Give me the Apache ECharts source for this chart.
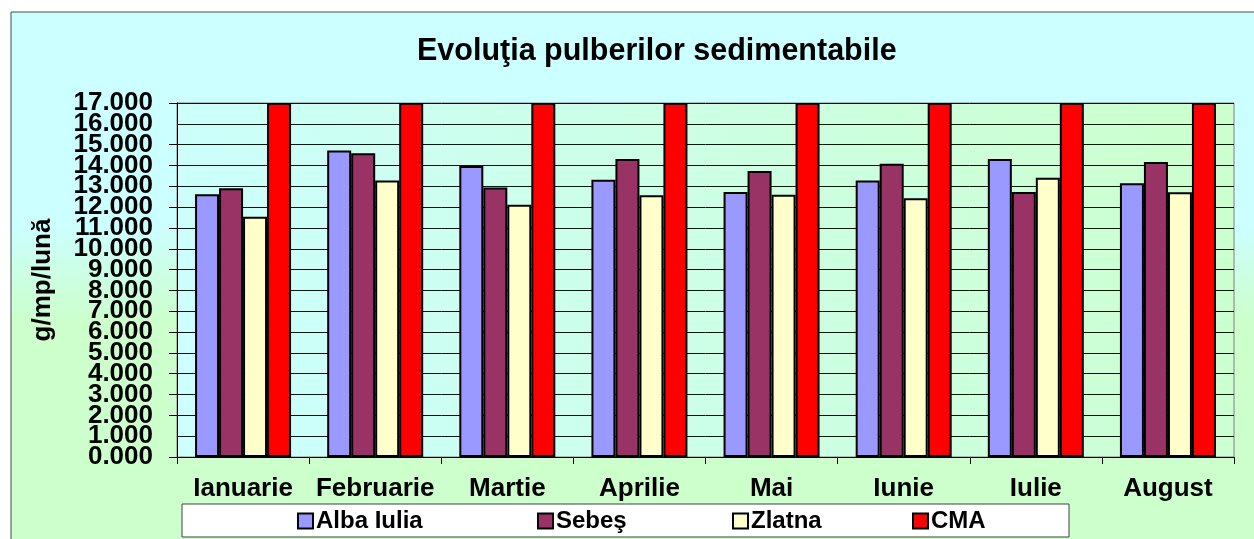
<!DOCTYPE html>
<html>
<head>
<meta charset="utf-8">
<script src="https://cdn.jsdelivr.net/npm/echarts@6/dist/echarts.min.js"></script>
<style>
    html, body { margin: 0; padding: 0; background: #ffffff; }
    #chart { width: 1254px; height: 539px; }
</style>
</head>
<body>
<div id="chart"></div>
<script>
// date
var luni = ['Ianuarie', 'Februarie', 'Martie', 'Aprilie', 'Mai', 'Iunie', 'Iulie', 'August'];
var albaIulia = [12.62, 14.72, 13.98, 13.31, 12.73, 13.28, 14.31, 13.15];
var sebes = [12.91, 14.59, 12.94, 14.31, 13.74, 14.08, 12.73, 14.17];
var zlatna = [11.54, 13.28, 12.11, 12.57, 12.59, 12.43, 13.41, 12.71];
var cma = [17, 17, 17, 17, 17, 17, 17, 17];
var numeSerii = ['Alba Iulia', 'Sebeş', 'Zlatna', 'CMA'];
var culori = ['#9999FF', '#993366', '#FFFFCC', '#FF0000'];
// etichete ascunse de echarts langa capete (se redau pe o axa suprapusa)
var eticheteCapete = [1, 16];

var font = 'Liberation Sans, Arial, sans-serif';
var myChart = echarts.init(document.getElementById('chart'));

// fundal + chenar exterior
var fundal = {
    type: 'rect',
    z: -10,
    shape: { x: 11, y: 12, width: 1300, height: 560 },
    style: {
        fill: new echarts.graphic.LinearGradient(0, 0, 0, 1, [
            { offset: 0, color: '#CCFFFF' },
            { offset: 0.38, color: '#CCFFFF' },
            { offset: 0.55, color: '#CCFFCC' },
            { offset: 1, color: '#CCFFCC' }
        ]),
        stroke: '#3f4f4f',
        lineWidth: 1
    }
};
// caseta legendei
var casetaLegenda = {
    type: 'rect',
    z: 1,
    shape: { x: 182, y: 504, width: 887, height: 33 },
    style: { fill: '#ffffff', stroke: '#404040', lineWidth: 1 }
};

function bara(i, valori) {
    return {
        name: numeSerii[i],
        type: 'bar',
        barWidth: 24,
        barGap: '0%',
        itemStyle: { color: culori[i], borderColor: '#000000', borderWidth: 2 },
        data: valori
    };
}

var pozLegenda = [297, 537, 732, 912];
var legende = numeSerii.map(function (n, i) {
    return {
        data: [n],
        left: pozLegenda[i],
        top: 509,
        padding: 0,
        icon: 'rect',
        itemWidth: 15,
        itemHeight: 15,
        itemGap: 4,
        z: 5,
        selectedMode: false,
        textStyle: { fontFamily: font, fontWeight: 'bold', fontSize: 24, color: '#000', padding: [0, 0, 0, -2] }
    };
});

var stilEticheta = { fontFamily: font, fontWeight: 'bold', fontSize: 26, color: '#000' };

var option = {
    backgroundColor: '#ffffff',
    animation: false,
    title: {
        text: 'Evoluţia pulberilor sedimentabile',
        left: 417,
        top: 36,
        padding: 0,
        textStyle: { fontFamily: font, fontWeight: 'bold', fontSize: 30.5, color: '#000' }
    },
    graphic: [fundal, casetaLegenda],
    legend: legende,
    grid: {
        left: 177,
        right: 20,
        top: 103,
        bottom: 82,
        show: true,
        borderColor: '#808080',
        borderWidth: 1,
        backgroundColor: new echarts.graphic.LinearGradient(0, 1, 1, 0, [
            { offset: 0, color: '#CCFFFF' },
            { offset: 1, color: '#CCFFCC' }
        ])
    },
    xAxis: {
        type: 'category',
        data: luni,
        axisLine: { lineStyle: { color: '#000', width: 1 } },
        axisTick: { show: true, length: 7, lineStyle: { color: '#000' } },
        axisLabel: Object.assign({ interval: 0, margin: 19 }, stilEticheta),
        splitLine: { show: false }
    },
    yAxis: [
        {
            type: 'value',
            min: 0,
            max: 17,
            interval: 1,
            name: 'g/mp/lună',
            nameLocation: 'middle',
            nameRotate: 90,
            nameGap: 121,
            nameTextStyle: { fontFamily: font, fontWeight: 'bold', fontSize: 26, color: '#000' },
            axisLine: { show: true, lineStyle: { color: '#000', width: 1 } },
            axisTick: { show: true, length: 8, lineStyle: { color: '#000' } },
            axisLabel: Object.assign({
                margin: 24,
                showMinLabel: true,
                showMaxLabel: true,
                hideOverlap: false,
                formatter: function (v) { return v.toFixed(3); }
            }, stilEticheta),
            splitLine: { show: true, lineStyle: { color: '#111', width: 1 } }
        },
        {
            type: 'value',
            position: 'left',
            offset: 0,
            min: 0,
            max: 17,
            interval: 1,
            axisLine: { show: false },
            axisTick: { show: false },
            splitLine: { show: false },
            axisLabel: Object.assign({
                margin: 24,
                showMinLabel: false,
                showMaxLabel: false,
                hideOverlap: false,
                formatter: function (v) {
                    return eticheteCapete.indexOf(v) >= 0 ? v.toFixed(3) : '';
                }
            }, stilEticheta)
        }
    ],
    series: [
        bara(0, albaIulia),
        bara(1, sebes),
        bara(2, zlatna),
        bara(3, cma)
    ]
};

myChart.setOption(option);
</script>
</body>
</html>
